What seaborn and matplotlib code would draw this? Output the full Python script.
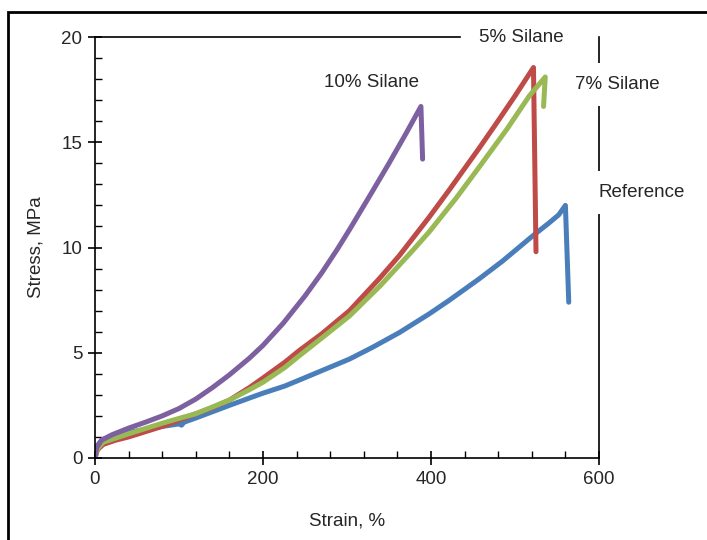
import numpy as np
import pandas as pd
import matplotlib
matplotlib.use('Agg')
import matplotlib.pyplot as plt
from matplotlib.patches import Rectangle
from matplotlib.ticker import MultipleLocator
import seaborn as sns

# Stress-strain curves (strain %, stress MPa)
ref_strain = [0, 2, 8, 20, 40, 60, 80, 100, 103, 106, 120, 140, 160, 184, 200, 226,
              243, 270, 303, 330, 362, 398, 422, 457, 485, 521, 540, 552, 560, 564]
ref_stress = [0.0, 0.55, 0.85, 1.05, 1.22, 1.36, 1.5, 1.62, 1.56, 1.7, 1.9, 2.2, 2.5,
              2.85, 3.08, 3.42, 3.7, 4.15, 4.7, 5.25, 5.95, 6.85, 7.5, 8.5, 9.35,
              10.55, 11.15, 11.55, 12.0, 7.4]

s5_strain = [0, 3, 10, 25, 40, 60, 80, 100, 120, 140, 160, 184, 200, 226, 243, 270,
             303, 338, 362, 398, 422, 457, 477, 500, 522, 525]
s5_stress = [0.0, 0.4, 0.65, 0.85, 1.0, 1.25, 1.5, 1.8, 2.1, 2.4, 2.75, 3.35, 3.8,
             4.55, 5.1, 5.9, 7.0, 8.5, 9.6, 11.45, 12.75, 14.7, 15.85, 17.2,
             18.55, 9.8]

s7_strain = [0, 3, 10, 25, 40, 60, 80, 100, 120, 160, 184, 200, 226, 243, 270, 303,
             340, 378, 398, 430, 457, 490, 517, 536, 534]
s7_stress = [0.0, 0.45, 0.75, 0.95, 1.15, 1.4, 1.65, 1.88, 2.1, 2.75, 3.25, 3.6, 4.3,
             4.85, 5.7, 6.75, 8.2, 9.85, 10.75, 12.35, 13.8, 15.6, 17.2, 18.1, 16.7]

s10_strain = [0, 2, 8, 20, 40, 60, 80, 100, 120, 140, 160, 184, 200, 224, 250, 270,
              289, 303, 330, 350, 370, 388, 390]
s10_stress = [0.0, 0.5, 0.85, 1.1, 1.42, 1.7, 2.0, 2.35, 2.8, 3.35, 3.95, 4.75, 5.35,
              6.4, 7.7, 8.8, 9.95, 10.85, 12.65, 14.0, 15.4, 16.7, 14.2]

series = ['Reference', '5% Silane', '7% Silane', '10% Silane']
colors = ['#4a7ebb', '#be4b48', '#98b954', '#7d60a0']

frames = []
for name, xs, ys in zip(series,
                        [ref_strain, s5_strain, s7_strain, s10_strain],
                        [ref_stress, s5_stress, s7_stress, s10_stress]):
    frames.append(pd.DataFrame({'Strain': xs, 'Stress': ys, 'Sample': name}))
df = pd.concat(frames, ignore_index=True)

sns.set_theme(style='white')
plt.rcParams['font.family'] = ['Liberation Sans', 'DejaVu Sans']

fs = 13.5
fig = plt.figure(figsize=(7.07, 5.4), dpi=100)
ax = fig.add_axes([95 / 707, 1 - 458 / 540, 504 / 707, 421 / 540])

sns.lineplot(data=df, x='Strain', y='Stress', hue='Sample', palette=colors,
             hue_order=series, sort=False, estimator=None, units='Sample',
             lw=3.6, legend=False, ax=ax)
for line in ax.lines:
    line.set_solid_capstyle('round')
    line.set_solid_joinstyle('round')

ax.set_xlim(0, 600)
ax.set_ylim(0, 20)
ax.xaxis.set_major_locator(MultipleLocator(200))
ax.xaxis.set_minor_locator(MultipleLocator(40))
ax.yaxis.set_major_locator(MultipleLocator(5))
ax.yaxis.set_minor_locator(MultipleLocator(1))
ax.tick_params(which='major', direction='inout', length=10, width=1.2,
               color='black', labelsize=fs, pad=4)
ax.tick_params(which='minor', direction='in', length=5, width=1.0, color='black')
ax.tick_params(axis='x', which='both', bottom=True)
ax.tick_params(axis='y', which='both', left=True)

for side in ['left', 'bottom', 'top', 'right']:
    ax.spines[side].set_color('black')
    ax.spines[side].set_linewidth(1.2)
ax.spines['top'].set_bounds(0, 435)

ax.set_xlabel('Strain, %', fontsize=fs, labelpad=18)
ax.set_ylabel('Stress, MPa', fontsize=fs, labelpad=12)

# curve labels placed like the original, covering the frame where they sit
ax.text(329, 17.85, '10% Silane', fontsize=fs, ha='center', va='center')
ax.text(507, 20.0, '5% Silane', fontsize=fs, ha='center', va='center')
ax.text(571, 17.75, '7% Silane', fontsize=fs, ha='left', va='center',
        bbox=dict(boxstyle='square,pad=0.7', fc='white', ec='none'))
ax.text(600, 12.6, 'Reference', fontsize=fs, ha='left', va='center',
        bbox=dict(boxstyle='square,pad=0.7', fc='white', ec='none'))
for t in ax.texts:
    t.set_clip_on(False)

# outer frame of the pasted figure
fig.patches.append(Rectangle((8 / 707, -0.1), 1.2, 1.1 - 12 / 540,
                             transform=fig.transFigure, fill=False,
                             ec='black', lw=2))

fig.savefig('out.png', dpi=100)
